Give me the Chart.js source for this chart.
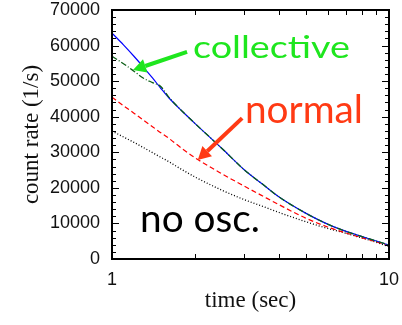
<!DOCTYPE html>
<html>
<head>
<meta charset="utf-8">
<script src="https://cdn.jsdelivr.net/npm/chart.js@4/dist/chart.umd.min.js"></script>
<style>
  html, body { margin: 0; padding: 0; background: #fff; }
  #wrap { width: 402px; height: 325px; }
</style>
</head>
<body>
<div id="wrap"><canvas id="rates"></canvas></div>
<script>
// time in seconds (log axis)
var times = [1, 1.1, 1.2, 1.3, 1.4, 1.5, 1.6, 1.8, 2, 2.5, 3, 3.5, 4, 5, 6, 7, 8, 9, 10];
// count rates (1/s)
var collective = [57000, 54900, 52800, 50800, 49600, 48500, 45600, 41400, 38000, 31000, 25100, 21000, 17500, 12900, 9800, 7750, 6300, 5050, 3900];
var fullRate   = [63500, 60200, 57000, 53900, 50900, 48000, 45400, 41400, 38000, 31000, 25100, 21000, 17500, 12900, 9800, 7750, 6300, 5050, 3900];
var normal     = [45500, 43100, 41000, 39000, 37200, 35500, 34000, 30900, 28400, 23900, 20500, 17700, 15300, 11500, 9000, 7300, 5950, 4850, 3700];
var noOsc      = [36000, 34300, 32800, 31300, 29900, 28600, 27400, 25000, 23000, 19300, 16700, 14800, 13100, 10500, 8600, 7200, 5900, 4700, 3450];

var yTicks = [0, 10000, 20000, 30000, 40000, 50000, 60000, 70000];
var xLabels = [1, 10];

function pts(vals) {
  return times.map(function (t, i) { return { x: t, y: vals[i] }; });
}

// labels and arrows, placed in data coordinates
var notes = [
  { text: 'collective', t: 1.96, v: 56500, color: '#1ee61e', size: 30, width: 157 },
  { text: 'normal', t: 3.02, v: 38200, color: '#ff3a14', size: 39, width: 118 },
  { text: 'no osc.', t: 1.262, v: 7600, color: '#000000', size: 39, width: 120 }
];
var arrows = [
  { from: [1.866, 58200], to: [1.19, 53100], color: '#1ee61e' },
  { from: [2.95, 39600], to: [2.04, 27800], color: '#ff3a14' }
];

var frame = {
  id: 'frame',
  afterDatasetsDraw: function (chart) {
    var ctx = chart.ctx, a = chart.chartArea, x = chart.scales.x, y = chart.scales.y;
    ctx.save();
    ctx.strokeStyle = '#000';
    ctx.lineWidth = 1;
    ctx.beginPath();
    for (var v = 0; v <= 70000; v += 2000) {
      var py = Math.round(y.getPixelForValue(v)) + 0.5;
      var len = v % 10000 === 0 ? 7 : 4;
      ctx.moveTo(a.left, py); ctx.lineTo(a.left + len, py);
      ctx.moveTo(a.right, py); ctx.lineTo(a.right - len, py);
    }
    for (var t = 2; t < 10; t++) {
      var px = Math.round(x.getPixelForValue(t)) + 0.5;
      ctx.moveTo(px, a.bottom); ctx.lineTo(px, a.bottom - 5);
      ctx.moveTo(px, a.top); ctx.lineTo(px, a.top + 5);
    }
    ctx.stroke();
    ctx.lineWidth = 2;
    ctx.strokeRect(a.left, a.top, a.right - a.left, a.bottom - a.top);

    // annotations
    notes.forEach(function (n) {
      var px = x.getPixelForValue(n.t), py = y.getPixelForValue(n.v);
      ctx.font = n.size + 'px Lato';
      var w = ctx.measureText(n.text).width;
      ctx.save();
      ctx.translate(px, py);
      ctx.scale(n.width / w, 1);
      ctx.fillStyle = n.color;
      ctx.textAlign = 'left';
      ctx.textBaseline = 'alphabetic';
      ctx.fillText(n.text, 0, 0);
      ctx.restore();
    });
    arrows.forEach(function (ar) {
      var x0 = x.getPixelForValue(ar.from[0]), y0 = y.getPixelForValue(ar.from[1]);
      var x1 = x.getPixelForValue(ar.to[0]), y1 = y.getPixelForValue(ar.to[1]);
      var ang = Math.atan2(y1 - y0, x1 - x0);
      var head = 13, hw = 7;
      var bx = x1 - head * Math.cos(ang), by = y1 - head * Math.sin(ang);
      ctx.strokeStyle = ar.color;
      ctx.fillStyle = ar.color;
      ctx.lineWidth = 4;
      ctx.lineCap = 'butt';
      ctx.beginPath();
      ctx.moveTo(x0, y0); ctx.lineTo(bx, by);
      ctx.stroke();
      ctx.beginPath();
      ctx.moveTo(x1, y1);
      ctx.lineTo(bx + hw * Math.sin(ang), by - hw * Math.cos(ang));
      ctx.lineTo(bx - hw * Math.sin(ang), by + hw * Math.cos(ang));
      ctx.closePath();
      ctx.fill();
    });
    ctx.restore();
  }
};

function noPad(s) {
  s.paddingTop = 0; s.paddingBottom = 0; s.paddingLeft = 0; s.paddingRight = 0;
}

new Chart(document.getElementById('rates'), {
  type: 'line',
  data: {
    datasets: [{
      label: 'collective',
      data: pts(collective),
      borderColor: '#0b5e16',
      borderWidth: 1.3,
      borderDash: [6, 2, 1, 2],
      order: 0
    }, {
      label: 'full',
      data: pts(fullRate),
      borderColor: '#0000ff',
      borderWidth: 1.2,
      order: 1
    }, {
      label: 'normal',
      data: pts(normal),
      borderColor: '#ff0000',
      borderWidth: 1.2,
      borderDash: [5, 3],
      order: 2
    }, {
      label: 'no osc.',
      data: pts(noOsc),
      borderColor: '#000000',
      borderWidth: 1.3,
      borderDash: [1, 2],
      order: 3
    }]
  },
  options: {
    responsive: true,
    maintainAspectRatio: false,
    animation: false,
    layout: { padding: { top: 10, right: 13, bottom: 0, left: 0 } },
    elements: {
      point: { radius: 0 },
      line: { cubicInterpolationMode: 'monotone', fill: false }
    },
    plugins: {
      legend: { display: false },
      tooltip: { enabled: false }
    },
    scales: {
      x: {
        type: 'logarithmic',
        min: 1,
        max: 10,
        grid: { display: false, drawTicks: false },
        border: { display: false },
        afterFit: function (s) { s.height = 66; noPad(s); },
        afterBuildTicks: function (s) { s.ticks = xLabels.map(function (v) { return { value: v }; }); },
        ticks: {
          autoSkip: false,
          maxRotation: 0,
          padding: 10,
          color: '#111',
          font: { family: 'Liberation Sans', size: 18 },
          callback: function (v) { return String(v); }
        },
        title: {
          display: true,
          text: 'time (sec)',
          color: '#111',
          font: { family: 'Liberation Serif', size: 23 },
          padding: { top: 0, bottom: 10 }
        }
      },
      y: {
        min: 0,
        max: 70000,
        grid: { display: false, drawTicks: false },
        border: { display: false },
        afterFit: function (s) { s.width = 112; noPad(s); },
        afterBuildTicks: function (s) { s.ticks = yTicks.map(function (v) { return { value: v }; }); },
        ticks: {
          padding: 12,
          color: '#111',
          font: { family: 'Liberation Sans', size: 18 },
          callback: function (v) { return String(v); }
        },
        title: {
          display: true,
          text: 'count rate (1/s)',
          color: '#111',
          font: { family: 'Liberation Serif', size: 23 },
          padding: { top: 18, bottom: 0 }
        }
      }
    }
  },
  plugins: [frame]
});
</script>
</body>
</html>
